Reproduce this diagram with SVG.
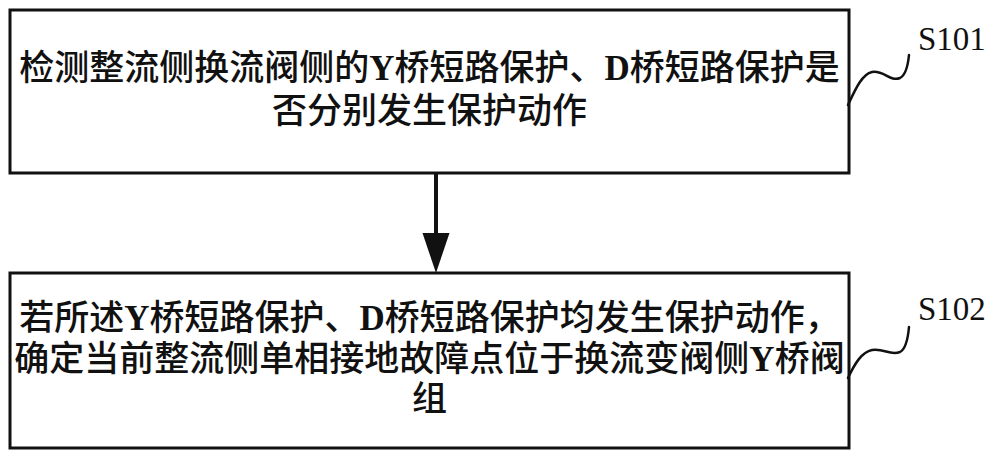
<svg xmlns="http://www.w3.org/2000/svg" width="1000" height="462" viewBox="0 0 1000 462">
<style>
.box{fill:#fff;stroke:#111;stroke-width:3}
.t{font-family:"Liberation Serif","Noto Sans CJK SC",serif;font-size:35px;font-weight:500;fill:#111;text-anchor:middle}
.b{font-weight:bold}
.lbl{font-family:"Liberation Serif",serif;font-size:33px;fill:#111}
.sq{fill:none;stroke:#111;stroke-width:2.5;stroke-linecap:round}
.conn{stroke:#111;stroke-width:4;fill:none}
</style>
<rect width="1000" height="462" fill="#fff"/>
<g id="connectors">
<line class="conn" x1="436" y1="173" x2="436" y2="236"/>
<polygon points="422.5,233 449.5,233 436,273" fill="#111"/>
</g>
<g id="S101">
<rect class="box" x="10" y="10" width="839" height="163"/>
<text class="t" x="429.5" y="80">检测整流侧换流阀侧的<tspan class="b">Y</tspan>桥短路保护、<tspan class="b">D</tspan>桥短路保护是</text>
<text class="t" x="429.5" y="123">否分别发生保护动作</text>
</g>
<g id="S102">
<rect class="box" x="10" y="273" width="839" height="175"/>
<text class="t" x="429.5" y="330">若所述<tspan class="b">Y</tspan>桥短路保护、<tspan class="b">D</tspan>桥短路保护均发生保护动作，</text>
<text class="t" x="429.5" y="371">确定当前整流侧单相接地故障点位于换流变阀侧<tspan class="b">Y</tspan>桥阀</text>
<text class="t" x="429.5" y="411">组</text>
</g>
<g id="label-S101">
<path class="sq" d="M848,105 C855,90 862,74 872,72 C884,70 890,82 900,78 C906,75 908,65 909,55"/>
<text class="lbl" x="918" y="50">S101</text>
</g>
<g id="label-S102">
<path class="sq" d="M848,378 C855,363 862,352 872,350 C884,348 890,356 900,352 C906,349 908,338 909,327"/>
<text class="lbl" x="918" y="320">S102</text>
</g>
</svg>
